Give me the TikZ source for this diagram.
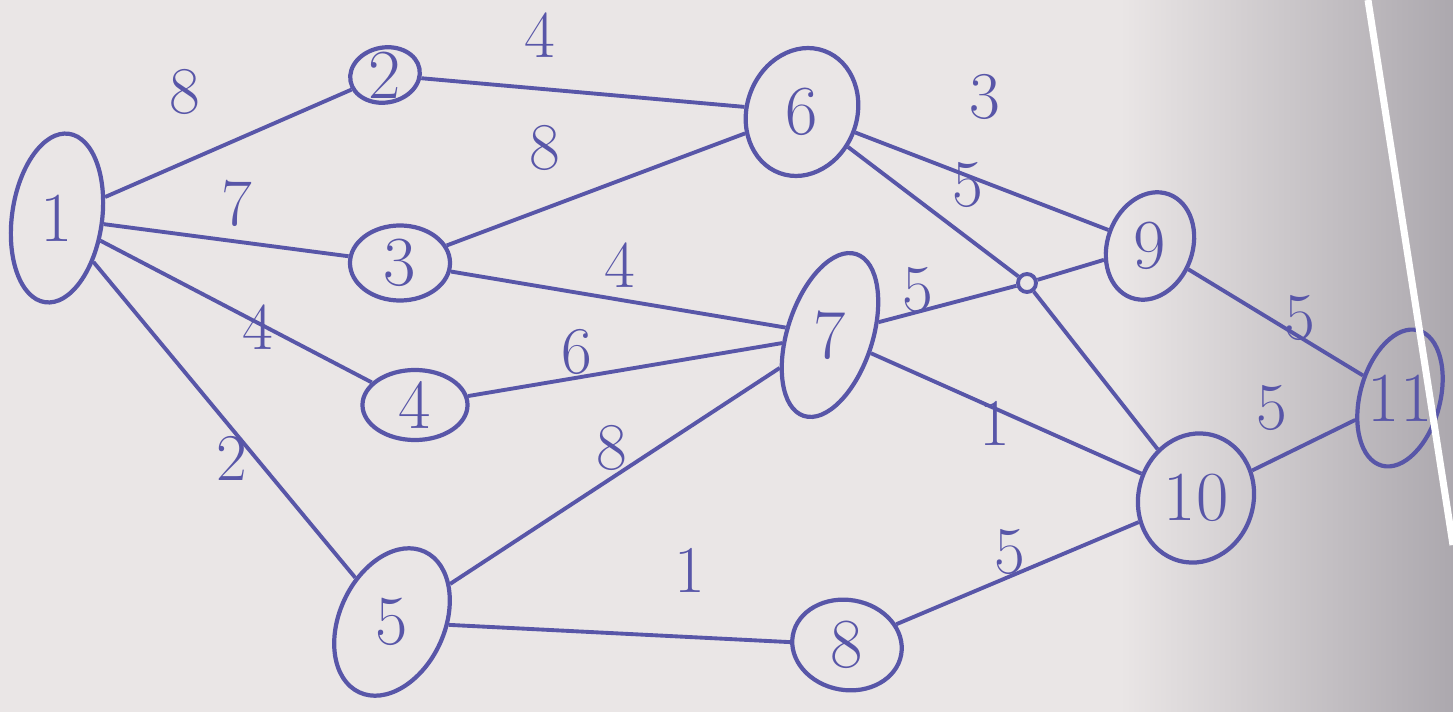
\documentclass[tikz,border=0pt]{standalone}
\usepackage{tikz}
\usetikzlibrary{positioning,shapes.geometric}
\usepackage{xcolor}
\definecolor{paper}{RGB}{234,230,230}
\definecolor{paperdark}{RGB}{172,168,174}
\definecolor{ink}{RGB}{88,86,168}

\begin{document}
\begin{tikzpicture}[x=0.01cm, y=-0.01cm,
	vtx/.style={draw=ink, ellipse, line width=1.2pt, inner sep=0pt},
	edge/.style={draw=ink, line width=1.1pt},
	num/.style={text=ink, font=\fontsize{20}{22}\selectfont},
	wt/.style={text=ink, font=\fontsize{19}{21}\selectfont}
]
	\useasboundingbox (0,0) rectangle (1453,712);
	% paper
	\fill[paper] (0,0) rectangle (1453,712);
	\shade[left color=paper, right color=paperdark] (1120,0) rectangle (1453,712);

	% Source
	\node[vtx, minimum width=0.9cm, minimum height=1.7cm, rotate=-8] (n1) at (57,218) {};
	\node[num] at (n1) {1};

	% First layer
	\node[vtx, minimum width=0.7cm, minimum height=0.55cm, rotate=10] (n2) at (385,75) {};
	\node[num] at (n2) {2};
	\node[vtx, minimum width=1.0cm, minimum height=0.75cm] (n3) at (400,263) {};
	\node[num] at (n3) {3};
	\node[vtx, minimum width=1.05cm, minimum height=0.7cm] (n4) at (415,405) {};
	\node[num] at (n4) {4};
	\node[vtx, minimum width=1.05cm, minimum height=1.55cm, rotate=-25] (n5) at (392,622) {};
	\node[num] at (n5) {5};

	% Second layer
	\node[vtx, minimum width=1.1cm, minimum height=1.3cm, rotate=-20] (n6) at (802,112) {};
	\node[num] at (n6) {6};
	\node[vtx, minimum width=0.85cm, minimum height=1.7cm, rotate=-18] (n7) at (830,335) {};
	\node[num] at (n7) {7};
	\node[vtx, minimum width=1.1cm, minimum height=0.9cm, rotate=-10] (n8) at (847,645) {};
	\node[num] at (n8) {8};

	% Junction
	\node[draw=ink, circle, line width=1.1pt, minimum size=0.18cm, inner sep=0pt] (jn) at (1027,283) {};

	% Third layer
	\node[vtx, minimum width=0.85cm, minimum height=1.1cm, rotate=-20] (n9) at (1150,246) {};
	\node[num] at (n9) {9};
	\node[vtx, minimum width=1.15cm, minimum height=1.3cm, rotate=-15] (n10) at (1196,498) {};
	\node[num] at (n10) {10};

	% Sink
	\node[vtx, minimum width=0.8cm, minimum height=1.4cm, rotate=-15] (n11) at (1400,398) {};
	\node[num] at (n11) {11};

	% Edges
	\draw[edge] (n1) -- (n2);
	\draw[edge] (n1) -- (n3);
	\draw[edge] (n1) -- (n4);
	\draw[edge] (n1) -- (n5);
	\draw[edge] (n2) -- (n6);
	\draw[edge] (n3) -- (n6);
	\draw[edge] (n3) -- (n7);
	\draw[edge] (n4) -- (n7);
	\draw[edge] (n5) -- (n7);
	\draw[edge] (n5) -- (n8);
	\draw[edge] (n6) -- (n9);
	\draw[edge] (n6) -- (jn) -- (n10);
	\draw[edge] (n7) -- (jn) -- (n9);
	\draw[edge] (n7) -- (n10);
	\draw[edge] (n8) -- (n10);
	\draw[edge] (n9) -- (n11);
	\draw[edge] (n10) -- (n11);

	% Weights
	\node[wt] (w12) at (185,92) {8};
	\node[wt] (w13) at (237,203) {7};
	\node[wt] (w14) at (258,327) {4};
	\node[wt] (w15) at (232,458) {2};
	\node[wt] (w26) at (540,35) {4};
	\node[wt] (w36) at (545,148) {8};
	\node[wt] (w37) at (620,265) {4};
	\node[wt] (w47) at (577,352) {6};
	\node[wt] (w57) at (612,448) {8};
	\node[wt] (w58) at (690,570) {1};
	\node[wt] (w69) at (985,97) {3};
	\node[wt] (w610) at (968,185) {5};
	\node[wt] (w79) at (918,290) {5};
	\node[wt] (w710) at (995,423) {1};
	\node[wt] (w810) at (1010,552) {5};
	\node[wt] (w911) at (1300,318) {5};
	\node[wt] (w1011) at (1272,408) {5};

	% paper edge
	\draw[white, line width=2pt] (1368,0) -- (1453,545);
\end{tikzpicture}
\end{document}
